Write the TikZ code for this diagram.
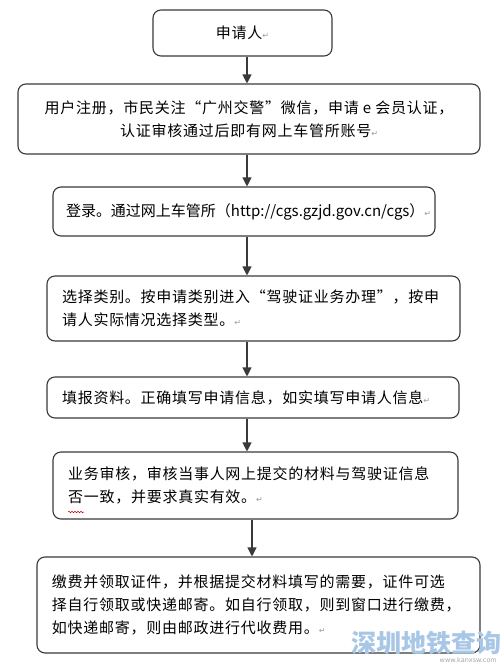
\documentclass[tikz,border=0pt]{standalone}
\usepackage{fontspec}
\setmainfont{Noto Sans CJK SC}
\newfontfamily\boxfont[LetterSpace=5]{Noto Sans CJK SC}
\newfontfamily\dejavu{DejaVu Sans}
\usetikzlibrary{arrows.meta,decorations.pathmorphing}
\definecolor{lineC}{HTML}{3A3A3A}
\definecolor{wmblue}{HTML}{A8C6E6}
\newcommand\pmark{{\dejavu\fontsize{8}{8}\selectfont\color{gray!80}↵}}
\begin{document}
\begin{tikzpicture}[x=1pt,y=-1pt,
  flowbox/.style={draw=lineC,line width=1.1pt,rounded corners=8pt,
    font=\boxfont\fontsize{15}{23}\selectfont,text=black},
  leftbox/.style={flowbox,align=left,inner xsep=15pt,inner ysep=0pt},
  flowarrow/.style={draw=lineC,line width=1.1pt,-{Triangle[length=9pt,width=9pt]}}]
\useasboundingbox (0,0) rectangle (500,665);
\fill[white] (0,0) rectangle (500,665);

\node[flowbox,minimum width=179pt,minimum height=46pt] (b1) at (242.5,33) {申请人\pmark};

\node[flowbox,align=center,minimum width=462pt,minimum height=70pt] (b2) at (249,119)
  {用户注册，市民关注“广州交警”微信，申请 e 会员认证，\\认证审核通过后即有网上车管所账号\pmark};

\node[leftbox,text width=356pt,minimum height=49pt,inner xsep=13pt,
      font=\rmfamily\fontsize{15}{23}\selectfont] (b3) at (244,211.5)
  {登录。通过网上车管所（http://cgs.gzjd.gov.cn/cgs）\pmark};

\node[leftbox,text width=383pt,minimum height=65pt] (b4) at (253.5,308.5)
  {选择类别。按申请类别进入“驾驶证业务办理”，按申\\请人实际情况选择类型。\pmark};

\node[leftbox,text width=382pt,minimum height=41pt] (b5) at (253,397.5)
  {填报资料。正确填写申请信息，如实填写申请人信息\pmark};

\node[leftbox,text width=375pt,minimum height=67pt] (b6) at (255.5,485.5)
  {业务审核，审核当事人网上提交的材料与驾驶证信息\\否一致，并要求真实有效。\pmark};

\node[leftbox,text width=413pt,minimum height=96pt] (b7) at (258.5,605)
  {缴费并领取证件，并根据提交材料填写的需要，证件可选\\择自行领取或快递邮寄。如自行领取，则到窗口进行缴费，\\如快递邮寄，则由邮政进行代收费用。\pmark};

\coordinate (ax) at (247,0);
\coordinate (ay) at (252,0);
\draw[flowarrow] (ax |- b1.south) -- (ax |- b2.north);
\draw[flowarrow] (ax |- b2.south) -- (ax |- b3.north);
\draw[flowarrow] (ax |- b3.south) -- (ax |- b4.north);
\draw[flowarrow] (ax |- b4.south) -- (ax |- b5.north);
\draw[flowarrow] (ax |- b5.south) -- (ax |- b6.north);
\draw[flowarrow] (ay |- b6.south) -- (ay |- b7.north);

% spell-check squiggle
\draw[red!80!black,line width=0.5pt,decorate,decoration={snake,amplitude=0.8pt,segment length=3pt}] (68,512) -- (84,512);

% watermark
\node[font=\fontsize{25}{25}\selectfont\bfseries,text=wmblue,inner sep=0pt] (wm) at (426,643) {深圳地铁查询};
\node[font=\dejavu\fontsize{6.5}{6.5}\selectfont,text=gray!70,anchor=north east,inner sep=0pt] (wmurl) at (497,657) {www.kanxsw.com};
\end{tikzpicture}
\end{document}
